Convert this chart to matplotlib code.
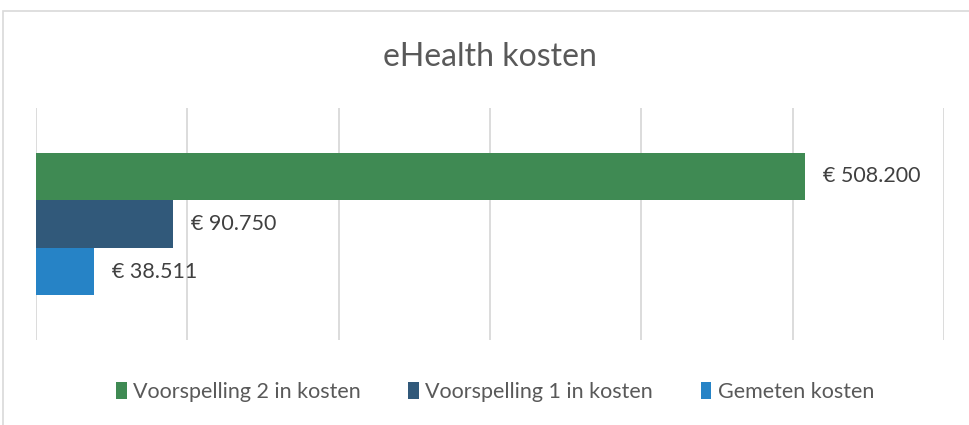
import matplotlib.pyplot as plt
from matplotlib.patches import Rectangle

plt.rcParams['font.family'] = ['Lato', 'DejaVu Sans']

series = ['Voorspelling 2 in kosten', 'Voorspelling 1 in kosten', 'Gemeten kosten']
values = [508200, 90750, 38511]
labels = ['€ 508.200', '€ 90.750', '€ 38.511']
colors = ['#3f8a53', '#31597a', '#2683c6']

fig = plt.figure(figsize=(9.69, 4.25), dpi=100)
# chart frame like the Excel border
fig.patches.append(Rectangle((3 / 969, -0.1), 1.1, (425 - 11) / 425 + 0.1,
                             transform=fig.transFigure, fill=False,
                             edgecolor='#d9d9d9', linewidth=1.2))

ax = fig.add_axes([36 / 969, 85 / 425, 908 / 969, 232 / 425])

h = 0.205
offsets = [0.205, 0.0, -0.205]
for name, v, lab, c, off in zip(series, values, labels, colors, offsets):
    ax.barh(off, v, height=h, color=c, label=name)
    ax.text(v + 12000, off, lab, va='center', ha='left', fontsize=15.5, color='#404040')

ax.set_xlim(0, 600000)
ax.set_ylim(-0.5, 0.5)
ax.set_xticks(range(0, 600001, 100000))
ax.grid(axis='x', color='#d9d9d9', linewidth=1.3)
ax.set_axisbelow(True)
ax.tick_params(left=False, bottom=False, labelleft=False, labelbottom=False)
for s in ax.spines.values():
    s.set_visible(False)

fig.text(490 / 969, 1 - 57 / 425, 'eHealth kosten', ha='center', va='center',
         fontsize=23, color='#595959')

fig.legend(loc='center', bbox_to_anchor=(495 / 969, 1 - 392 / 425), ncol=3,
           frameon=False, fontsize=15.5, labelcolor='#595959',
           handlelength=0.5, handleheight=0.8, handletextpad=0.3, columnspacing=2.2)

fig.savefig('out.png', dpi=100)
